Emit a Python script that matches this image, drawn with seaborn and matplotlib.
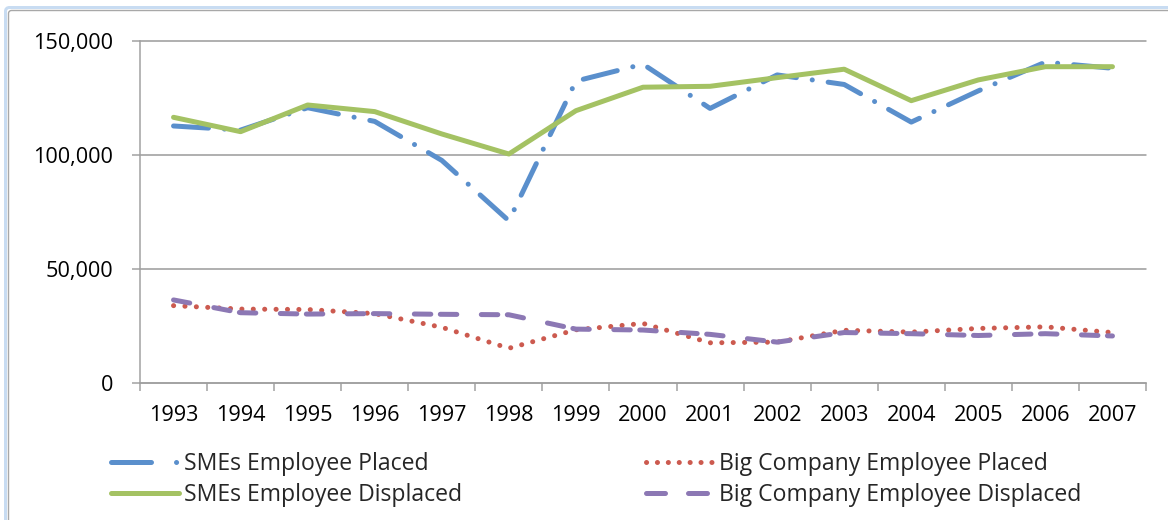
import matplotlib
matplotlib.use("Agg")
import matplotlib.pyplot as plt
import seaborn as sns
import numpy as np
from matplotlib.lines import Line2D
from matplotlib.patches import FancyBboxPatch
from matplotlib.transforms import IdentityTransform

# ---- data -------------------------------------------------------------
years = list(range(1993, 2008))
smes_placed = [112600, 110800, 120600, 114600, 97500, 71000, 132300, 139700,
               120300, 135000, 130800, 114300, 128000, 140600, 137900]
smes_displaced = [116400, 110100, 121800, 118900, 109100, 100300, 119300, 129600,
                  130000, 133800, 137500, 123700, 132800, 138600, 138600]
big_placed = [33800, 32300, 32100, 30300, 24300, 15100, 23200, 26000,
              17500, 17800, 23000, 22200, 23800, 24500, 22000]
big_displaced = [36300, 30700, 30100, 30300, 30000, 29800, 23500, 23100,
                 21200, 17800, 22000, 21500, 20700, 21500, 20500]

y_ticks = [0, 50000, 100000, 150000]
y_tick_labels = ["0", "50,000", "100,000", "150,000"]

# ---- style ------------------------------------------------------------
sns.set_theme(style="white")
plt.rcParams["font.family"] = ["Open Sans", "DejaVu Sans"]
plt.rcParams["lines.scale_dashes"] = False

DPI = 100
W, H = 1168, 520


def pt(p):
    """pixels -> points"""
    return p * 72.0 / DPI


BLUE = "#5A8FCC"
GREEN = "#A4C263"
RED = "#CC5A4F"
PURPLE = "#8C78B4"
AXIS_GREY = "#A0A0A0"
GRID_GREY = "#989898"
FS = 15.6
LEG_FS = 16.6
LW = pt(5)

ls_blue = (0, (pt(35), pt(16), pt(0.1), pt(16)))
ls_red = (0, (pt(0.1), pt(11.3)))
ls_purple = (0, (pt(16.5), pt(24.5), pt(16.5), pt(9.5)))

fig = plt.figure(figsize=(W / DPI, H / DPI), dpi=DPI)
fig.patch.set_facecolor("white")

# chart-area frame (extends past the right and bottom edges)
glow = FancyBboxPatch((5.5, -40), 1200, 512.5 + 40, boxstyle="round,pad=0,rounding_size=4",
                      transform=IdentityTransform(), fill=False,
                      edgecolor="#C8DCF2", lw=pt(3))
frame = FancyBboxPatch((8.5, -40), 1200, 509.5 + 40, boxstyle="round,pad=0,rounding_size=3",
                       transform=IdentityTransform(), fill=False,
                       edgecolor="#A8A8A8", lw=pt(1.4))
fig.add_artist(glow)
fig.add_artist(frame)

ax = fig.add_axes([140 / W, 1 - 382.7 / H, (1146 - 140) / W, (382.7 - 40.7) / H])
ax.set_facecolor("white")

common = dict(ax=ax, lw=LW, dash_capstyle="round", solid_capstyle="round",
              solid_joinstyle="round", dash_joinstyle="round")
sns.lineplot(x=years, y=smes_placed, color=BLUE, linestyle=ls_blue, zorder=3, **common)
sns.lineplot(x=years, y=big_placed, color=RED, linestyle=ls_red, zorder=4, **common)
sns.lineplot(x=years, y=smes_displaced, color=GREEN, linestyle="-", zorder=5, **common)
sns.lineplot(x=years, y=big_displaced, color=PURPLE, linestyle=ls_purple, zorder=6, **common)

ax.set_xlim(years[0] - 0.5, years[-1] + 0.5)
ax.set_ylim(y_ticks[0], y_ticks[-1])

# x axis: tick marks on category boundaries, labels at category centres
ax.set_xticks(np.arange(years[0] - 0.5, years[-1] + 1, 1.0))
ax.set_xticklabels([])
ax.set_xticks(years, minor=True)
ax.set_xticklabels([str(y) for y in years], minor=True, fontsize=FS, color="black")
ax.tick_params(axis="x", which="major", direction="out", length=pt(8), width=pt(1.5),
               color=AXIS_GREY, bottom=True)
ax.tick_params(axis="x", which="minor", length=0, pad=pt(22), bottom=True)

ax.set_yticks(y_ticks)
ax.set_yticklabels(y_tick_labels, fontsize=FS, color="black")
ax.tick_params(axis="y", which="major", direction="out", length=pt(8), width=pt(1.5),
               color=AXIS_GREY, left=True, pad=pt(19))

ax.yaxis.grid(True, color=GRID_GREY, lw=pt(1.5))
ax.xaxis.grid(False)
for gl in ax.get_ygridlines():
    gl.set_clip_on(False)
ax.set_axisbelow(True)

for side in ("top", "right"):
    ax.spines[side].set_visible(False)
for side in ("left", "bottom"):
    ax.spines[side].set_color(AXIS_GREY)
    ax.spines[side].set_linewidth(pt(1.5))
ax.set_xlabel("")
ax.set_ylabel("")

# legend: two columns, two rows
entries = [
    ("SMEs Employee Placed", BLUE, (0, (pt(40), pt(25), pt(0.1), pt(30))), 110.8, 464),
    ("SMEs Employee Displaced", GREEN, "-", 110.8, 495),
    ("Big Company Employee Placed", RED, (0, (pt(0.1), pt(10.8))), 646.0, 464),
    ("Big Company Employee Displaced", PURPLE, (0, (pt(19), pt(23))), 646.0, 495),
]
for label, col, ls, x0, yc in entries:
    h = Line2D([], [], color=col, lw=LW, linestyle=ls, dash_capstyle="round",
               solid_capstyle="round")
    fig.legend(handles=[h], labels=[label], loc="center left",
               bbox_to_anchor=(x0 / W, 1 - yc / H), frameon=False, borderpad=0,
               borderaxespad=0, handlelength=68.0 / (LEG_FS * DPI / 72),
               handletextpad=0.22, fontsize=LEG_FS)

fig.savefig("out.png", dpi=DPI, facecolor="white")
